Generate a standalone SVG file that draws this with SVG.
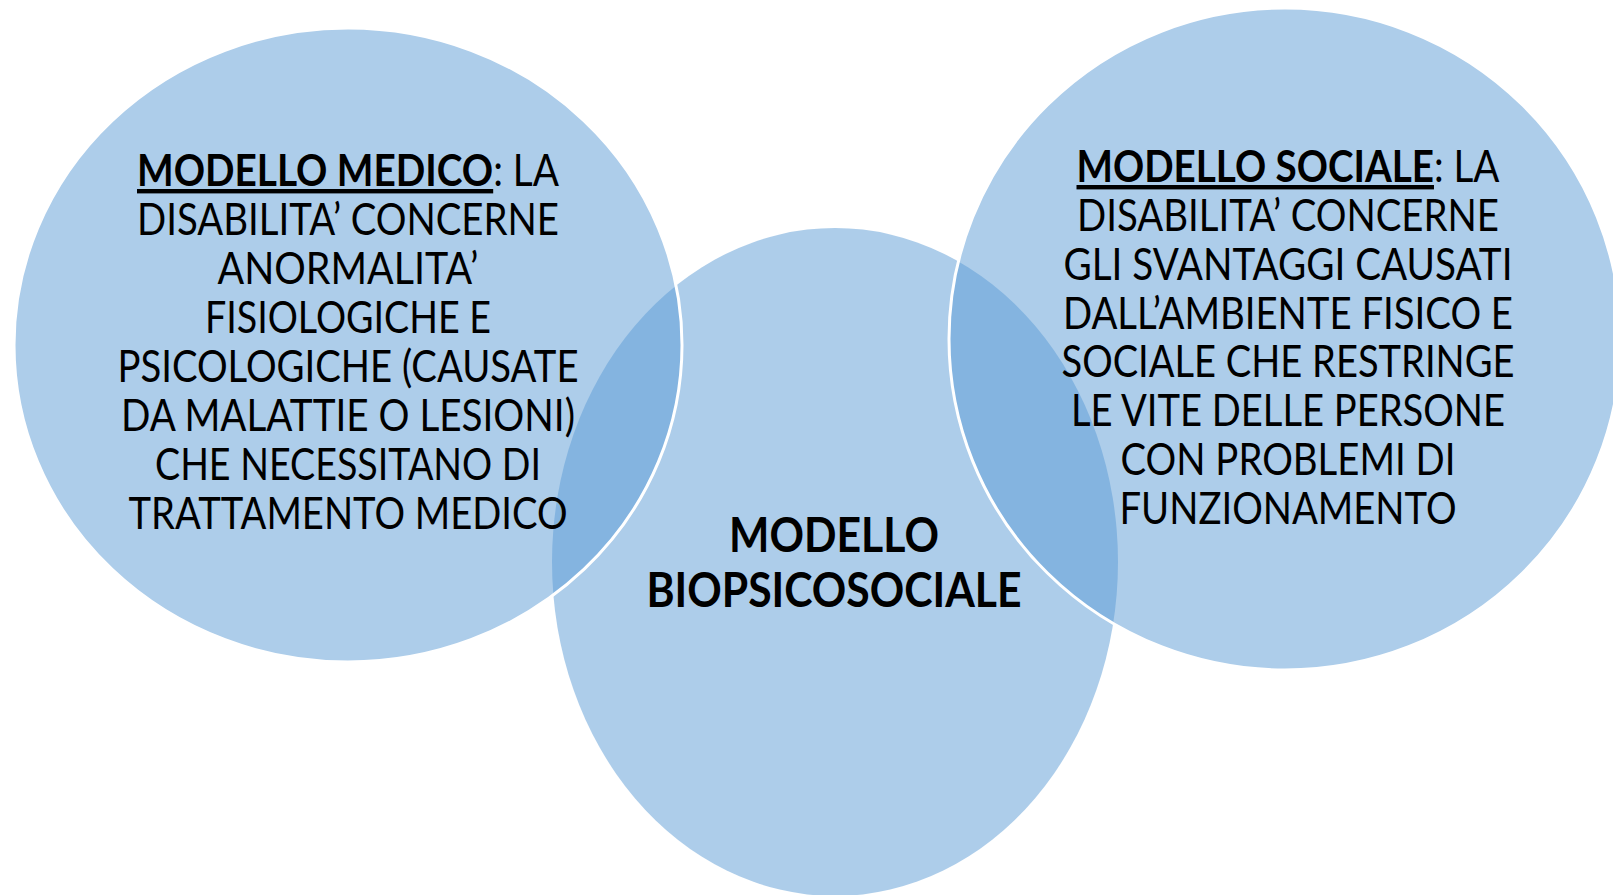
<svg xmlns="http://www.w3.org/2000/svg" width="1613" height="895" viewBox="0 0 1613 895">
<style>
.c{fill:#5B9BD5;fill-opacity:0.5}
.s{stroke:#FFFFFF;stroke-width:3}
.t{font-family:Lato,"Liberation Sans",sans-serif;font-size:44px;fill:#000000;text-anchor:middle}
.u{font-weight:bold;text-decoration:underline}
.m{font-family:Lato,"Liberation Sans",sans-serif;font-size:48px;font-weight:bold;fill:#000000;text-anchor:middle}
</style>
<rect width="1613" height="895" fill="#FFFFFF"/>
<g id="node-biopsicosociale">
<ellipse class="c" cx="835" cy="562" rx="283" ry="334"/>
</g>
<g id="node-medico">
<ellipse class="c s" cx="348" cy="345" rx="334" ry="317"/>
</g>
<g id="node-sociale">
<ellipse class="c s" cx="1285" cy="339" rx="336" ry="331"/>
</g>
<g id="connectors"></g>
<g id="label-medico">
<text class="t" x="348" y="186" textLength="422" lengthAdjust="spacingAndGlyphs"><tspan class="u">MODELLO MEDICO</tspan>: LA</text>
<text class="t" x="348" y="235" textLength="422" lengthAdjust="spacingAndGlyphs">DISABILITA’ CONCERNE</text>
<text class="t" x="348" y="284" textLength="261" lengthAdjust="spacingAndGlyphs">ANORMALITA’</text>
<text class="t" x="348" y="333" textLength="286" lengthAdjust="spacingAndGlyphs">FISIOLOGICHE E</text>
<text class="t" x="348" y="382" textLength="461" lengthAdjust="spacingAndGlyphs">PSICOLOGICHE (CAUSATE</text>
<text class="t" x="348" y="431" textLength="454" lengthAdjust="spacingAndGlyphs">DA MALATTIE O LESIONI)</text>
<text class="t" x="348" y="480" textLength="386" lengthAdjust="spacingAndGlyphs">CHE NECESSITANO DI</text>
<text class="t" x="348" y="529" textLength="439" lengthAdjust="spacingAndGlyphs">TRATTAMENTO MEDICO</text>
</g>
<g id="label-sociale">
<text class="t" x="1288" y="182" textLength="423" lengthAdjust="spacingAndGlyphs"><tspan class="u">MODELLO SOCIALE</tspan>: LA</text>
<text class="t" x="1288" y="231" textLength="422" lengthAdjust="spacingAndGlyphs">DISABILITA’ CONCERNE</text>
<text class="t" x="1288" y="280" textLength="449" lengthAdjust="spacingAndGlyphs">GLI SVANTAGGI CAUSATI</text>
<text class="t" x="1288" y="329" textLength="450" lengthAdjust="spacingAndGlyphs">DALL’AMBIENTE FISICO E</text>
<text class="t" x="1288" y="377" textLength="453" lengthAdjust="spacingAndGlyphs">SOCIALE CHE RESTRINGE</text>
<text class="t" x="1288" y="426" textLength="434" lengthAdjust="spacingAndGlyphs">LE VITE DELLE PERSONE</text>
<text class="t" x="1288" y="475" textLength="335" lengthAdjust="spacingAndGlyphs">CON PROBLEMI DI</text>
<text class="t" x="1288" y="524" textLength="337" lengthAdjust="spacingAndGlyphs">FUNZIONAMENTO</text>
</g>
<g id="label-biopsicosociale">
<text class="m" x="834" y="552" textLength="210" lengthAdjust="spacingAndGlyphs">MODELLO</text>
<text class="m" x="834" y="607" textLength="375" lengthAdjust="spacingAndGlyphs">BIOPSICOSOCIALE</text>
</g>
</svg>
